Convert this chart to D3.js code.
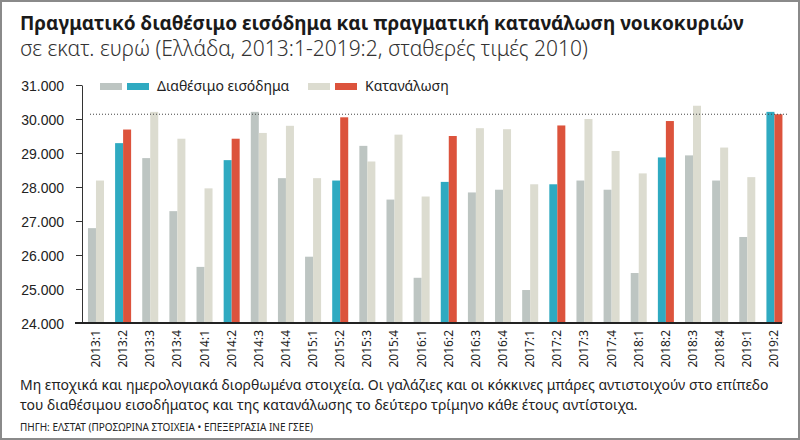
<!DOCTYPE html>
<html>
<head>
<meta charset="utf-8">
<title></title>
<style>
    body { margin: 0; background: #fff; }
    svg { display: block; font-family: "Noto Sans", "Open Sans", sans-serif; }
    .axis text { font-size: 14px; fill: #222; }
    .axis path, .axis line { stroke: #333; }
</style>
</head>
<body>
<script src="https://cdn.jsdelivr.net/npm/d3@7/dist/d3.min.js"></script>
<script>
    var width = 800, height = 440;

    // quarters and values (millions of euro, constant 2010 prices)
    const quarters = ["2013:1","2013:2","2013:3","2013:4","2014:1","2014:2","2014:3","2014:4",
        "2015:1","2015:2","2015:3","2015:4","2016:1","2016:2","2016:3","2016:4",
        "2017:1","2017:2","2017:3","2017:4","2018:1","2018:2","2018:3","2018:4",
        "2019:1","2019:2"];
    const income = [26790, 29290, 28850, 27290, 25650, 28790, 30210, 28260,
        25950, 28190, 29210, 27630, 25330, 28150, 27840, 27920,
        24970, 28080, 28190, 27920, 25470, 28870, 28930, 28190,
        26530, 30210];
    const consumption = [28190, 29690, 30210, 29420, 27960, 29420, 29590, 29800,
        28260, 30050, 28750, 29540, 27720, 29500, 29730, 29700,
        28080, 29810, 30000, 29060, 28400, 29940, 30390, 29160,
        28290, 30140];
    const yTicks = [24000, 25000, 26000, 27000, 28000, 29000, 30000, 31000];
    const seriesNames = ["Διαθέσιμο εισόδημα", "Κατανάλωση"];

    var colGray = "#bdc5c2", colBeige = "#dcdcd0", colTeal = "#2faac1", colRed = "#dc533c";

    var svg = d3.select("body").append("svg")
        .attr("width", width)
        .attr("height", height);

    // frame
    svg.append("rect")
        .attr("x", 1).attr("y", 1)
        .attr("width", width - 2).attr("height", height - 2)
        .attr("fill", "#fff")
        .attr("stroke", "#8a8a8a")
        .attr("stroke-width", 2);

    // title + subtitle
    svg.append("text")
        .attr("x", 20).attr("y", 30)
        .attr("font-size", 19).attr("font-weight", 700)
        .attr("fill", "#1a1a1a")
        .text("Πραγματικό διαθέσιμο εισόδημα και πραγματική κατανάλωση νοικοκυριών");
    svg.append("text")
        .attr("x", 20).attr("y", 56)
        .attr("font-size", 21).attr("font-weight", 300)
        .attr("fill", "#333")
        .text("σε εκατ. ευρώ (Ελλάδα, 2013:1-2019:2, σταθερές τιμές 2010)");

    var y = d3.scaleLinear().domain([24000, 31000]).range([323, 85]);
    var x = d3.scaleBand().domain(quarters)
        .range([82.4, 788])
        .paddingInner(0.41)
        .paddingOuter(0.205);
    var x1 = d3.scaleBand().domain(["inc", "cons"]).range([0, x.bandwidth()]);

    var loc = d3.formatLocale({decimal: ",", thousands: ".", grouping: [3], currency: ["", "€"]});
    var fmt = loc.format(",.0f");

    // y axis
    svg.append("g")
        .attr("class", "axis")
        .attr("transform", "translate(82,0)")
        .call(d3.axisLeft(y).tickValues(yTicks).tickFormat(fmt).tickSize(6).tickSizeOuter(0).tickPadding(12))
        .call(function(g) { g.selectAll("text").attr("dy", "0.36em"); });

    var isQ2 = function(q) { return q.slice(-2) == ":2"; };

    // bars
    var groups = svg.append("g").selectAll("g")
        .data(quarters)
        .enter().append("g")
        .attr("transform", function(d) { return "translate(" + x(d) + ",0)"; });

    groups.append("rect")
        .attr("x", x1("inc"))
        .attr("width", x1.bandwidth())
        .attr("y", function(d, i) { return y(income[i]); })
        .attr("height", function(d, i) { return y(24000) - y(income[i]); })
        .attr("fill", function(d) { return isQ2(d) ? colTeal : colGray; });

    groups.append("rect")
        .attr("x", x1("cons"))
        .attr("width", x1.bandwidth())
        .attr("y", function(d, i) { return y(consumption[i]); })
        .attr("height", function(d, i) { return y(24000) - y(consumption[i]); })
        .attr("fill", function(d) { return isQ2(d) ? colRed : colBeige; });

    // dotted level of the latest consumption
    svg.append("line")
        .attr("x1", 90).attr("x2", 788)
        .attr("y1", y(consumption[consumption.length - 1]))
        .attr("y2", y(consumption[consumption.length - 1]))
        .attr("stroke", "#444")
        .attr("stroke-width", 1)
        .attr("stroke-dasharray", "1,2");

    // base line
    svg.append("line")
        .attr("x1", 75).attr("x2", 782)
        .attr("y1", y(24000)).attr("y2", y(24000))
        .attr("stroke", "#222")
        .attr("stroke-width", 2);

    // x labels
    svg.append("g").selectAll("text")
        .data(quarters)
        .enter().append("text")
        .attr("transform", function(d) {
            return "translate(" + (x(d) + x.bandwidth() / 2 + 4) + ",330) rotate(-90)";
        })
        .attr("text-anchor", "end")
        .attr("font-size", 12)
        .attr("fill", "#222")
        .text(function(d) { return d; });

    // legend
    var legend = [
        {x: 100, c1: colGray, c2: colTeal, name: seriesNames[0]},
        {x: 308, c1: colBeige, c2: colRed, name: seriesNames[1]}
    ];
    var lg = svg.append("g").selectAll("g")
        .data(legend)
        .enter().append("g")
        .attr("transform", function(d) { return "translate(" + d.x + ",83)"; });
    lg.append("rect").attr("width", 22).attr("height", 7).attr("fill", function(d) { return d.c1; });
    lg.append("rect").attr("x", 27).attr("width", 22).attr("height", 7).attr("fill", function(d) { return d.c2; });
    lg.append("text")
        .attr("x", 57).attr("y", 8)
        .attr("font-size", 14)
        .attr("fill", "#222")
        .text(function(d) { return d.name; });

    // footer
    svg.append("text")
        .attr("x", 20).attr("y", 390)
        .attr("font-size", 14).attr("fill", "#222")
        .text("Μη εποχικά και ημερολογιακά διορθωμένα στοιχεία. Οι γαλάζιες και οι κόκκινες μπάρες αντιστοιχούν στο επίπεδο");
    svg.append("text")
        .attr("x", 20).attr("y", 410)
        .attr("font-size", 14).attr("fill", "#222")
        .text("του διαθέσιμου εισοδήματος και της κατανάλωσης το δεύτερο τρίμηνο κάθε έτους αντίστοιχα.");
    svg.append("text")
        .attr("x", 20).attr("y", 431)
        .attr("font-size", 10).attr("fill", "#222")
        .text("ΠΗΓΗ: ΕΛΣΤΑΤ (ΠΡΟΣΩΡΙΝΑ ΣΤΟΙΧΕΙΑ • ΕΠΕΞΕΡΓΑΣΙΑ ΙΝΕ ΓΣΕΕ)");
</script>
</body>
</html>
